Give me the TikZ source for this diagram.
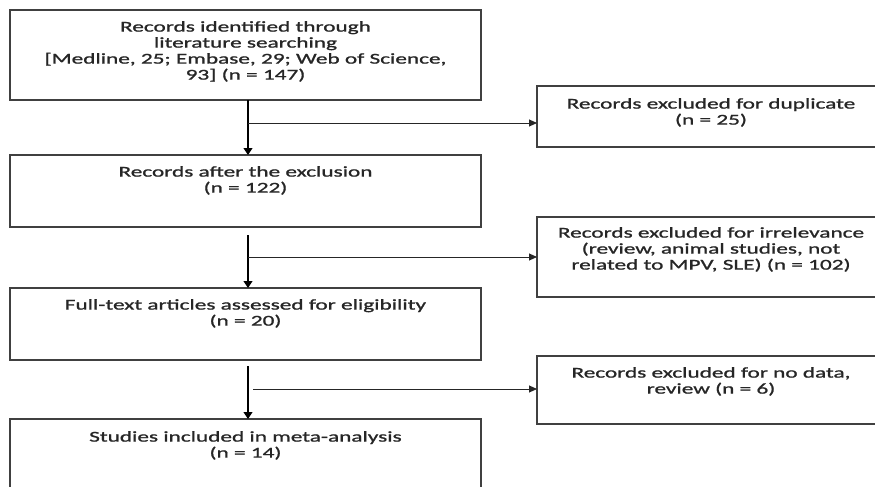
\documentclass[tikz,border=0pt]{standalone}
\usepackage{fontspec}
\setmainfont{Carlito}[FakeStretch=1.55,FakeBold=1.2]
\usetikzlibrary{positioning,arrows.meta}

\begin{document}
\begin{tikzpicture}[x=1pt,y=-1pt,
	box/.style={draw=black!75,line width=1.1pt,anchor=north west,inner sep=0pt,outer sep=0pt},
	leftbox/.style={box,minimum width=471pt},
	rightbox/.style={box,minimum width=348pt},
	txt/.style={align=center,inner sep=0pt,text=black!85,font=\fontsize{15}{16}\selectfont},
	arr/.style={line width=1.1pt,-{Triangle[length=7pt,width=9pt]}},
	branch/.style={line width=0.9pt,black!85,-{Triangle[length=8pt,width=7pt]}}]
	\useasboundingbox (0,0) rectangle (875,487);
	\clip (0,0) rectangle (875,487);
	% left column
	\node[leftbox,minimum height=90pt] (b1) at (10,10) {};
	\node[leftbox,minimum height=72pt] (b2) at (10,155) {};
	\node[leftbox,minimum height=72pt] (b3) at (10,288) {};
	\node[leftbox,minimum height=90pt] (b4) at (10,419) {};
	% right column
	\node[rightbox,minimum height=61pt] (r1) at (537,86) {};
	\node[rightbox,minimum height=80pt] (r2) at (537,217) {};
	\node[rightbox,minimum height=68pt] (r3) at (537,356) {};
	% texts
	\node[txt,below=11pt of b1.north] (t1) {Records identified through\\ literature searching\\ {[}Medline, 25; Embase, 29; Web of Science,\\ 93] (n = 147)};
	\node[txt,below=11pt of b2.north] (t2) {Records after the exclusion\\ (n = 122)};
	\node[txt,below=11pt of b3.north] (t3) {Full-text articles assessed for eligibility\\ (n = 20)};
	\node[txt,below=12pt of b4.north] (t4) {Studies included in meta-analysis\\ (n = 14)};
	\node[txt,below=12pt of r1.north] (s1) {Records excluded for duplicate\\ (n = 25)};
	\node[txt,below=10pt of r2.north] (s2) {Records excluded for irrelevance\\ (review, animal studies, not\\ related to MPV, SLE) (n = 102)};
	\node[txt,below=11pt of r3.north] (s3) {Records excluded for no data,\\ review (n = 6)};
	% arrows
	\draw[arr] ([xshift=2.5pt]b1.south) -- ([xshift=2.5pt]b2.north);
	\draw[arr] ([xshift=2.5pt,yshift=-8pt]b2.south) -- ([xshift=2.5pt]b3.north);
	\draw[arr] ([xshift=2.5pt,yshift=-6pt]b3.south) -- ([xshift=2.5pt]b4.north);
	\coordinate (j1) at (248,123);
	\coordinate (j2) at (248,257);
	\coordinate (j3) at (253,389);
	\draw[branch] (j1) -- (j1 -| r1.west);
	\draw[branch] (j2) -- (j2 -| r2.west);
	\draw[branch] (j3) -- (j3 -| r3.west);
\end{tikzpicture}
\end{document}
